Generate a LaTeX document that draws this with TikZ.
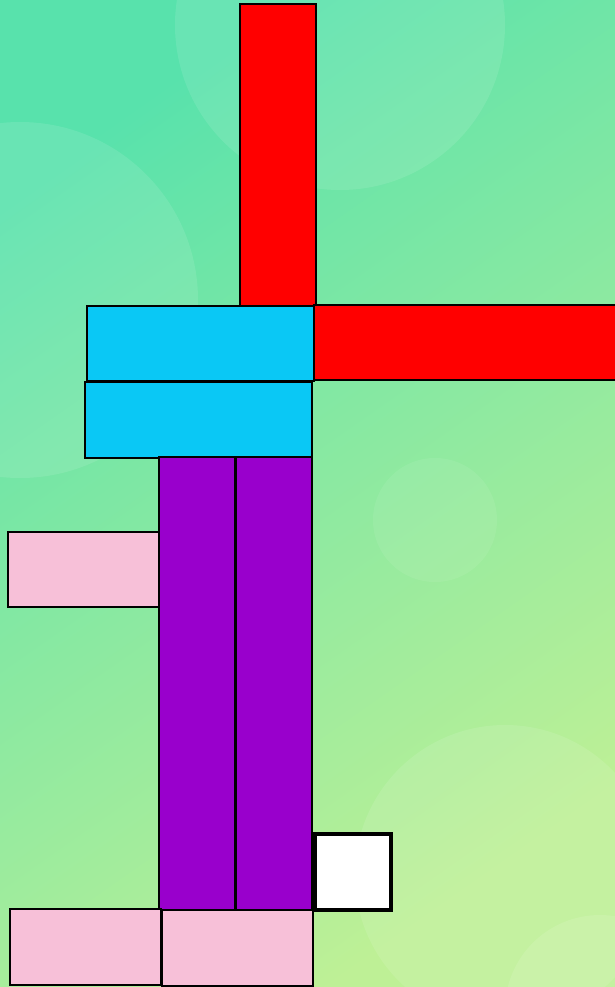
\documentclass[tikz,border=0pt]{standalone}
\usepackage{tikz}
\usetikzlibrary{positioning}
\usepackage{xcolor}
\definecolor{bgteal}{RGB}{88,226,172}
\definecolor{bgmid}{RGB}{140,232,150}
\definecolor{bglime}{RGB}{190,240,150}
\definecolor{barred}{RGB}{255,0,0}
\definecolor{barcyan}{RGB}{10,200,245}
\definecolor{barpurple}{RGB}{153,0,204}
\definecolor{barpink}{RGB}{247,192,216}

\begin{document}
\begin{tikzpicture}[
  x=0.02cm, y=-0.02cm,
  block/.style={draw=black, line width=1.1pt, anchor=north west, inner sep=0pt, outer sep=0pt},
  glow/.style={fill=white, fill opacity=0.1}
]
% background
\useasboundingbox (0,0) rectangle (615,987);
\shade[top color=bgteal, middle color=bgmid, bottom color=bglime, shading angle=35] (0,0) rectangle (615,987);
\begin{scope}
\clip (0,0) rectangle (615,987);
\fill[glow] (340,25) circle (165);
\fill[glow] (20,300) circle (178);
\fill[glow] (505,875) circle (150);
\fill[glow] (600,1010) circle (95);
\fill[glow, fill opacity=0.07] (435,520) circle (62);
\end{scope}
% blocks
\node[block, fill=barred, minimum width=76*0.02cm, minimum height=302*0.02cm] (redup) at (240,4) {};
\node[block, fill=barred, minimum width=310*0.02cm, minimum height=75*0.02cm] (redright) at (314,305) {};
\node[block, fill=barcyan, minimum width=227*0.02cm, minimum height=75*0.02cm] (cyantop) at (87,306) {};
\node[block, fill=barcyan, minimum width=227*0.02cm, minimum height=76*0.02cm] (cyanbot) at (85,382) {};
\node[block, fill=barpurple, minimum width=76*0.02cm, minimum height=453*0.02cm] (purpleleft) at (159,457) {};
\node[block, fill=barpurple, minimum width=76*0.02cm, minimum height=453*0.02cm] (purpleright) at (236,457) {};
\node[block, fill=barpink, minimum width=151*0.02cm, minimum height=75*0.02cm] (pinkside) at (8,532) {};
\node[block, fill=white, line width=2pt, minimum width=76*0.02cm, minimum height=76*0.02cm] (whitesq) at (315,834) {};
\node[block, fill=barpink, minimum width=151*0.02cm, minimum height=76*0.02cm] (pinkbl) at (10,909) {};
\node[block, fill=barpink, minimum width=151*0.02cm, minimum height=76*0.02cm] (pinkbr) at (162,910) {};
\end{tikzpicture}
\end{document}
